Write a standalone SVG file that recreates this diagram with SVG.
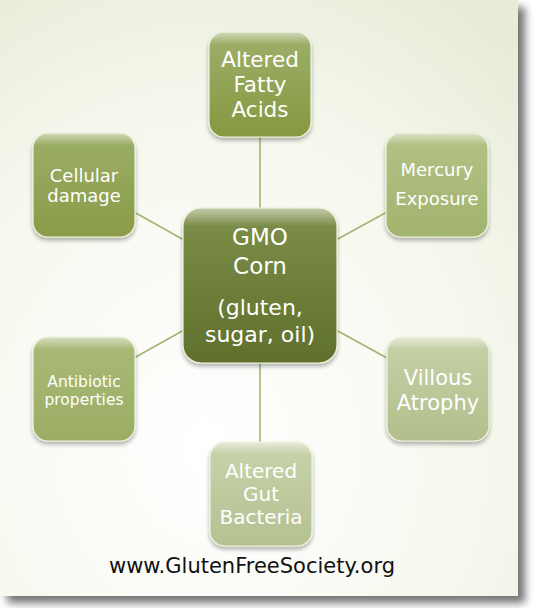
<svg xmlns="http://www.w3.org/2000/svg" width="534" height="608" viewBox="0 0 534 608">
<defs>
<radialGradient id="bg" cx="0.4" cy="0.75" r="0.9">
<stop offset="0" stop-color="#ffffff"/>
<stop offset="0.6" stop-color="#f6f8ee"/>
<stop offset="1" stop-color="#e7ecd8"/>
</radialGradient>
<filter id="pshadow" x="-5%" y="-5%" width="115%" height="115%">
<feGaussianBlur in="SourceAlpha" stdDeviation="4"/>
<feOffset dx="7" dy="7"/>
<feComponentTransfer><feFuncA type="linear" slope="0.55"/></feComponentTransfer>
<feMerge><feMergeNode/><feMergeNode in="SourceGraphic"/></feMerge>
</filter>
<filter id="nshadow" x="-20%" y="-20%" width="140%" height="140%">
<feGaussianBlur in="SourceAlpha" stdDeviation="2"/>
<feOffset dx="0" dy="3"/>
<feComponentTransfer><feFuncA type="linear" slope="0.3"/></feComponentTransfer>
<feMerge><feMergeNode/><feMergeNode in="SourceGraphic"/></feMerge>
</filter>
<linearGradient id="g1" x1="0" y1="0" x2="0" y2="1"><stop offset="0" stop-color="#9db06a"/><stop offset="1" stop-color="#869840"/></linearGradient>
<linearGradient id="g2" x1="0" y1="0" x2="0" y2="1"><stop offset="0" stop-color="#9bae68"/><stop offset="1" stop-color="#8a9c48"/></linearGradient>
<linearGradient id="g3" x1="0" y1="0" x2="0" y2="1"><stop offset="0" stop-color="#b2c285"/><stop offset="1" stop-color="#a2b46e"/></linearGradient>
<linearGradient id="gc" x1="0" y1="0" x2="0" y2="1"><stop offset="0" stop-color="#7d8f48"/><stop offset="1" stop-color="#5f702c"/></linearGradient>
<linearGradient id="g4" x1="0" y1="0" x2="0" y2="1"><stop offset="0" stop-color="#a9ba78"/><stop offset="1" stop-color="#9bad64"/></linearGradient>
<linearGradient id="g5" x1="0" y1="0" x2="0" y2="1"><stop offset="0" stop-color="#c6d1a8"/><stop offset="1" stop-color="#b2bf8c"/></linearGradient>
<linearGradient id="g6" x1="0" y1="0" x2="0" y2="1"><stop offset="0" stop-color="#c8d3ab"/><stop offset="1" stop-color="#b4c190"/></linearGradient>
<linearGradient id="hl" x1="0" y1="0" x2="0" y2="1"><stop offset="0" stop-color="#ffffff" stop-opacity="0.55"/><stop offset="0.12" stop-color="#ffffff" stop-opacity="0"/></linearGradient>
</defs>
<style>
.box{stroke:#eef2dc;stroke-width:1.2;filter:url(#nshadow)}
.gloss{fill:url(#hl);stroke:none}
.t{font-family:"DejaVu Sans",sans-serif;fill:#ffffff;text-anchor:middle}
.conn line{stroke:#a3b474;stroke-width:1.6}
</style>
<rect x="0" y="0" width="518" height="596" fill="url(#bg)" filter="url(#pshadow)"/>
<g class="conn">
<line x1="260" y1="137" x2="260" y2="209"/>
<line x1="260" y1="362" x2="260" y2="442"/>
<line x1="134" y1="212" x2="184" y2="240"/>
<line x1="336" y1="240" x2="387" y2="212"/>
<line x1="134" y1="358" x2="184" y2="330"/>
<line x1="336" y1="330" x2="387" y2="358"/>
</g>
<g id="n-fatty">
<rect class="box" x="209" y="32" width="102" height="105" rx="15" fill="url(#g1)"/>
<rect class="gloss" x="209" y="32" width="102" height="105" rx="15"/>
<text class="t" font-size="21.5"><tspan x="260" y="67">Altered</tspan><tspan x="260" y="92">Fatty</tspan><tspan x="260" y="117">Acids</tspan></text>
</g>
<g id="n-cellular">
<rect class="box" x="33" y="133" width="102" height="104" rx="15" fill="url(#g2)"/>
<rect class="gloss" x="33" y="133" width="102" height="104" rx="15"/>
<text class="t" font-size="18"><tspan x="84" y="182">Cellular</tspan><tspan x="84" y="202">damage</tspan></text>
</g>
<g id="n-mercury">
<rect class="box" x="386" y="133" width="102" height="104" rx="15" fill="url(#g3)"/>
<rect class="gloss" x="386" y="133" width="102" height="104" rx="15"/>
<text class="t" font-size="18"><tspan x="437" y="176">Mercury</tspan><tspan x="437" y="205">Exposure</tspan></text>
</g>
<g id="n-center">
<rect class="box" x="183" y="208" width="154" height="155" rx="18" fill="url(#gc)"/>
<rect class="gloss" x="183" y="208" width="154" height="155" rx="18"/>
<text class="t" font-size="23"><tspan x="260" y="245">GMO</tspan><tspan x="260" y="274">Corn</tspan></text>
<text class="t" font-size="22"><tspan x="260" y="315">(gluten,</tspan><tspan x="260" y="342">sugar, oil)</tspan></text>
</g>
<g id="n-antibiotic">
<rect class="box" x="33" y="337" width="102" height="104" rx="15" fill="url(#g4)"/>
<rect class="gloss" x="33" y="337" width="102" height="104" rx="15"/>
<text class="t" font-size="15.5"><tspan x="84" y="387">Antibiotic</tspan><tspan x="84" y="405">properties</tspan></text>
</g>
<g id="n-villous">
<rect class="box" x="387" y="337" width="102" height="104" rx="15" fill="url(#g5)"/>
<rect class="gloss" x="387" y="337" width="102" height="104" rx="15"/>
<text class="t" font-size="21"><tspan x="438" y="385">Villous</tspan><tspan x="438" y="410">Atrophy</tspan></text>
</g>
<g id="n-gut">
<rect class="box" x="210" y="442" width="102" height="104" rx="15" fill="url(#g6)"/>
<rect class="gloss" x="210" y="442" width="102" height="104" rx="15"/>
<text class="t" font-size="20"><tspan x="261" y="478">Altered</tspan><tspan x="261" y="501">Gut</tspan><tspan x="261" y="524">Bacteria</tspan></text>
</g>
<text x="252" y="573" font-family="DejaVu Sans,sans-serif" font-size="21" fill="#111111" text-anchor="middle">www.GlutenFreeSociety.org</text>
</svg>
